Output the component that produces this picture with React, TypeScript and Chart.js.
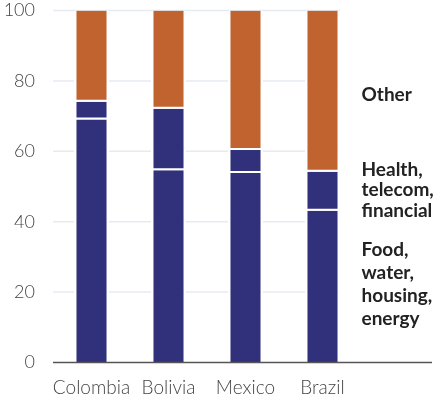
import React, { useEffect, useRef } from "react";
import { Chart, registerables } from "chart.js";

Chart.register(...registerables);

const categories = ["Colombia", "Bolivia", "Mexico", "Brazil", ""];
const foodWaterHousingEnergy = [69, 54.6, 53.8, 43.1, null];
const healthTelecomFinancial = [5.1, 17.5, 6.6, 11.1, null];
const other = [25.9, 27.9, 39.6, 45.8, null];
const yTicks = [0, 20, 40, 60, 80, 100];
const seriesLabels = [
  { lines: ["Other"], value: 74.2, lineHeight: 21 },
  { lines: ["Health,", "telecom,", "financial"], value: 53, lineHeight: 20.3 },
  { lines: ["Food,", "water,", "housing,", "energy"], value: 30.3, lineHeight: 23 },
];

const NAVY = "#31307a";
const ORANGE = "#c0632e";
const GRID = "#e6eaf2";
const TICK = "#444444";
const FONT = "Lato";

const annotations = {
  id: "annotations",
  beforeDatasetsDraw(chart: any) {
    const { ctx, chartArea, scales } = chart;
    const y = scales.y;
    const lastBar: any = chart.getDatasetMeta(0).data[3];
    const gridRight = lastBar.x + lastBar.width / 2;
    ctx.save();
    ctx.strokeStyle = GRID;
    ctx.lineWidth = 1.5;
    yTicks.forEach((t) => {
      if (t === 0) return;
      const py = y.getPixelForValue(t);
      ctx.beginPath();
      ctx.moveTo(chartArea.left, py);
      ctx.lineTo(gridRight, py);
      ctx.stroke();
    });
    ctx.restore();
  },
  afterDatasetsDraw(chart: any) {
    const { ctx, chartArea, scales } = chart;
    const x = scales.x;
    const y = scales.y;
    ctx.save();
    const y0 = y.getPixelForValue(0);
    ctx.strokeStyle = "#555555";
    ctx.lineWidth = 1.5;
    ctx.beginPath();
    ctx.moveTo(chartArea.left, y0);
    ctx.lineTo(chartArea.right - 6, y0);
    ctx.stroke();

    const labelX = (x.getPixelForValue(3) + x.getPixelForValue(4)) / 2 + 0.5;
    ctx.fillStyle = "#222222";
    ctx.font = `bold 19px ${FONT}`;
    ctx.textAlign = "left";
    ctx.textBaseline = "alphabetic";
    seriesLabels.forEach((s) => {
      const base = y.getPixelForValue(s.value);
      s.lines.forEach((line, i) => {
        ctx.fillText(line, labelX, base + i * s.lineHeight);
      });
    });
    ctx.restore();
  },
};

export default function App() {
  const canvasRef = useRef<HTMLCanvasElement | null>(null);

  useEffect(() => {
    if (!canvasRef.current) return;
    const common = {
      borderColor: "#ffffff",
      borderSkipped: false as const,
      barPercentage: 1,
      categoryPercentage: 0.455,
      borderRadius: 0,
    };
    const chart = new Chart(canvasRef.current, {
      type: "bar",
      data: {
        labels: categories,
        datasets: [
          {
            label: "Food, water, housing, energy",
            data: foodWaterHousingEnergy,
            backgroundColor: NAVY,
            borderWidth: { top: 0, bottom: 0, left: 2.5, right: 2.5 },
            ...common,
          },
          {
            label: "Health, telecom, financial",
            data: healthTelecomFinancial,
            backgroundColor: NAVY,
            borderWidth: { top: 0, bottom: 2, left: 2.5, right: 2.5 },
            ...common,
          },
          {
            label: "Other",
            data: other,
            backgroundColor: ORANGE,
            borderWidth: { top: 0, bottom: 2, left: 2.5, right: 2.5 },
            ...common,
          },
        ],
      },
      options: {
        animation: false,
        responsive: true,
        maintainAspectRatio: false,
        layout: { padding: { top: 10.5, right: 9, left: 0, bottom: 0 } },
        plugins: {
          legend: { display: false },
          tooltip: { enabled: false },
        },
        scales: {
          x: {
            stacked: true,
            grid: { display: false },
            border: { display: false },
            ticks: {
              color: TICK,
              font: { family: FONT, size: 19, weight: "300" as any, lineHeight: 1 },
              padding: 8,
              maxRotation: 0,
              autoSkip: false,
            },
            afterFit(scale: any) {
              scale.height = 37.5;
              scale.paddingLeft = 0;
              scale.paddingRight = 0;
            },
          },
          y: {
            stacked: true,
            min: 0,
            max: 100,
            grid: { display: false },
            border: { display: false },
            ticks: {
              stepSize: 20,
              color: TICK,
              font: { family: FONT, size: 18, weight: "300" as any, lineHeight: 1 },
              padding: 10,
            },
            afterFit(scale: any) {
              scale.width = 53;
              scale.paddingTop = 0;
              scale.paddingBottom = 0;
            },
          },
        },
      },
      plugins: [annotations],
    });
    return () => chart.destroy();
  }, []);

  return (
    <div style={{ position: "fixed", left: 0, top: 0, width: 447, height: 400, background: "#ffffff" }}>
      <canvas ref={canvasRef} />
    </div>
  );
}
